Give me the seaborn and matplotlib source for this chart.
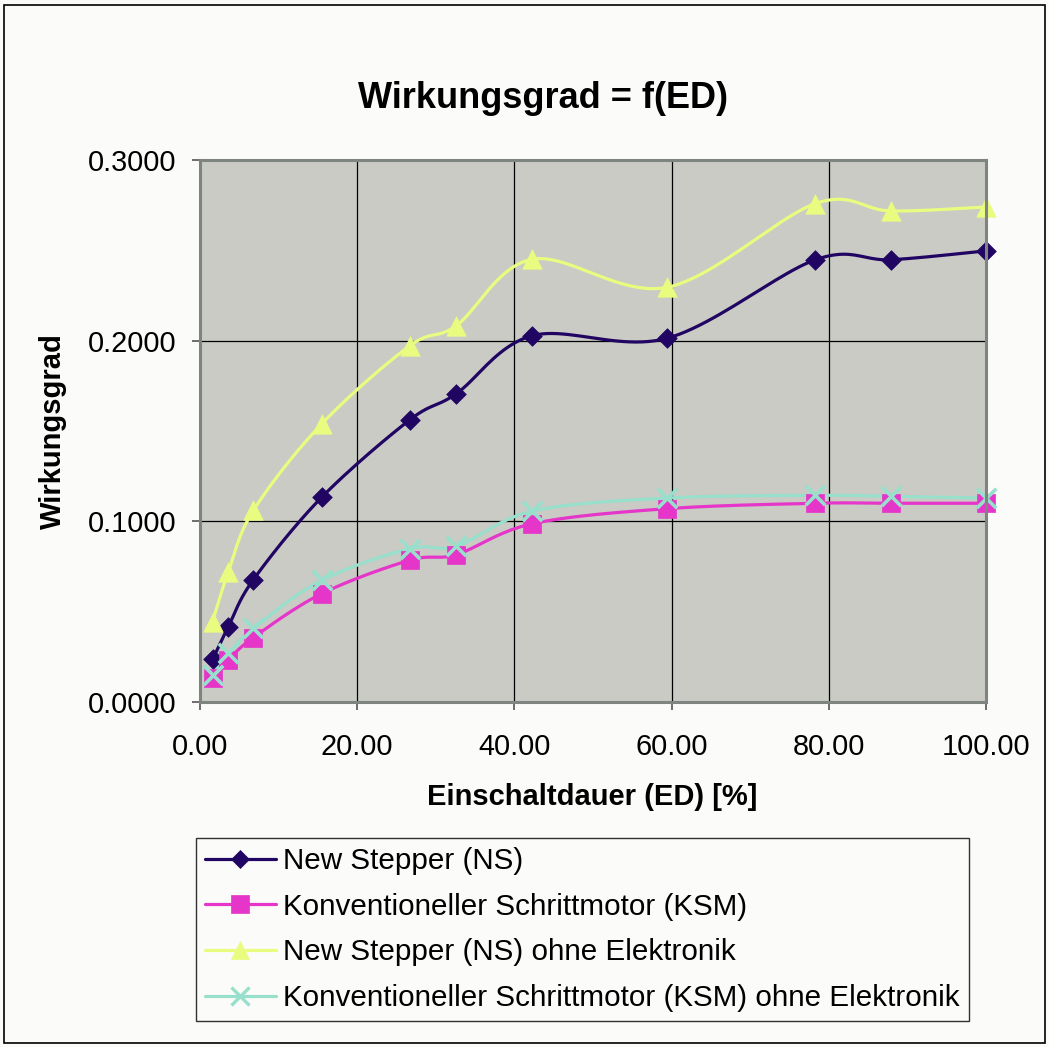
import numpy as np
import pandas as pd
import matplotlib
matplotlib.use("Agg")
import matplotlib.pyplot as plt
from matplotlib.lines import Line2D
from matplotlib.patches import Rectangle
from matplotlib.ticker import FormatStrFormatter, MultipleLocator
import seaborn as sns

# Einschaltdauer (ED) in %
ed = [1.6, 3.6, 6.8, 15.5, 26.7, 32.6, 42.3, 59.4, 78.3, 87.9, 100.0]

# Wirkungsgrad der einzelnen Varianten
ns = [0.0236, 0.0416, 0.0678, 0.1134, 0.1562, 0.1706, 0.2028, 0.2013, 0.2448, 0.2448, 0.2497]
ksm = [0.0131, 0.0232, 0.0357, 0.0600, 0.0785, 0.0816, 0.0987, 0.1070, 0.1100, 0.1100, 0.1100]
ns_ohne = [0.0444, 0.0720, 0.1061, 0.1540, 0.1972, 0.2083, 0.2451, 0.2295, 0.2759, 0.2718, 0.2740]
ksm_ohne = [0.0149, 0.0269, 0.0407, 0.0674, 0.0849, 0.0862, 0.1057, 0.1129, 0.1144, 0.1138, 0.1129]

labels = [
    "New Stepper (NS)",
    "Konventioneller Schrittmotor (KSM)",
    "New Stepper (NS) ohne Elektronik",
    "Konventioneller Schrittmotor (KSM) ohne Elektronik",
]
series = [ns, ksm, ns_ohne, ksm_ohne]
colors = ["#210563", "#E536C9", "#EAFC80", "#98DFCC"]
markers = ["D", "s", "^", "x"]
msizes = [10.0, 13.0, 14.0, 14.0]


def smooth(x, y, n=24):
    """Catmull-Rom style cubic Bezier through all points (Excel 'smoothed line')."""
    p = np.column_stack([x, y]).astype(float)
    out = []
    t = np.linspace(0, 1, n)[:, None]
    for i in range(len(p) - 1):
        p0 = p[i - 1] if i > 0 else p[i]
        p1, p2 = p[i], p[i + 1]
        p3 = p[i + 2] if i + 2 < len(p) else p[i + 1]
        b1 = p1 + (p2 - p0) / 6.0
        b2 = p2 - (p3 - p1) / 6.0
        seg = ((1 - t) ** 3) * p1 + 3 * ((1 - t) ** 2) * t * b1 + 3 * (1 - t) * t ** 2 * b2 + t ** 3 * p2
        out.append(seg if i == 0 else seg[1:])
    c = np.vstack(out)
    return c[:, 0], c[:, 1]


sns.set_style("white")
plt.rcParams["font.family"] = ["Liberation Sans", "DejaVu Sans"]
plt.rcParams["text.color"] = "black"
plt.rcParams["axes.labelcolor"] = "black"
plt.rcParams["xtick.color"] = "black"
plt.rcParams["ytick.color"] = "black"

W, H = 1049, 1047
fig = plt.figure(figsize=(W / 100, H / 100), dpi=100)
fig.patch.set_facecolor("#FBFBF9")
fig.patches.append(Rectangle((4 / W, 1 - 1043 / H), 1041 / W, 1038 / H,
                             transform=fig.transFigure, fill=False,
                             edgecolor="black", linewidth=1.2))

ax = fig.add_axes([200 / W, 1 - 702 / H, 786 / W, 542 / H])
ax.set_facecolor("#C9CBC4")

for vals, lab, col, mk, ms in zip(series, labels, colors, markers, msizes):
    sx, sy = smooth(ed, vals)
    curve = pd.DataFrame({"ED": sx, "Wirkungsgrad": sy})
    sns.lineplot(data=curve, x="ED", y="Wirkungsgrad", sort=False, estimator=None,
                 color=col, linewidth=2.3, ax=ax, zorder=3)
    pts = pd.DataFrame({"ED": ed, "Wirkungsgrad": vals})
    if mk == "x":
        sns.scatterplot(data=pts, x="ED", y="Wirkungsgrad", marker=mk, s=ms ** 2,
                        color=col, linewidth=2.6, ax=ax, zorder=4, clip_on=False)
    else:
        sns.scatterplot(data=pts, x="ED", y="Wirkungsgrad", marker=mk, s=ms ** 2,
                        color=col, edgecolor=col, linewidth=0.5, ax=ax, zorder=4,
                        clip_on=False)

ax.set_xlim(0, 100)
ax.set_ylim(0, 0.3)
ax.xaxis.set_major_locator(MultipleLocator(20))
ax.yaxis.set_major_locator(MultipleLocator(0.1))
ax.xaxis.set_major_formatter(FormatStrFormatter("%.2f"))
ax.yaxis.set_major_formatter(FormatStrFormatter("%.4f"))
ax.grid(True, color="black", linewidth=0.9, zorder=1)
ax.set_axisbelow(True)
for s in ax.spines.values():
    s.set_color("#7E8581")
    s.set_linewidth(2.2)
    s.set_zorder(5)
ax.tick_params(axis="both", direction="out", length=6, width=1.2, color="#555555",
               labelsize=20.8, labelcolor="black", left=True, bottom=True)
ax.tick_params(axis="y", pad=11)
ax.tick_params(axis="x", pad=16)

ax.set_xlabel("Einschaltdauer (ED) [%]", fontsize=21, fontweight="bold", color="black")
ax.set_ylabel("Wirkungsgrad", fontsize=21, fontweight="bold", color="black")
ax.xaxis.set_label_coords((592 - 200) / 786, (702 - 797) / 542)
ax.xaxis.label.set_va("center")
ax.yaxis.set_label_coords((53 - 200) / 786, 0.5)
ax.yaxis.label.set_va("center")

fig.text(543 / W, 1 - 98 / H, "Wirkungsgrad = f(ED)", fontsize=26,
         fontweight="bold", ha="center", va="center", color="black")

handles = [Line2D([0], [0], color=c, linewidth=2.3, marker=m,
                  markersize=ms * 0.95, markeredgewidth=(2.4 if m == "x" else 0.5),
                  markerfacecolor=c, markeredgecolor=c)
           for c, m, ms in zip(colors, markers, msizes)]
leg = fig.legend(handles, labels, loc="upper left",
                 bbox_to_anchor=(196 / W, 1 - 838 / H), fontsize=21.3,
                 frameon=True, fancybox=False, edgecolor="black",
                 handlelength=2.4, handletextpad=0.25, labelspacing=0.6,
                 borderpad=0.3, borderaxespad=0.0)
leg.get_frame().set_linewidth(1.0)
leg.get_frame().set_facecolor("#FBFBF9")
for t in leg.get_texts():
    t.set_color("black")

fig.savefig("out.png", dpi=100, facecolor=fig.get_facecolor())
